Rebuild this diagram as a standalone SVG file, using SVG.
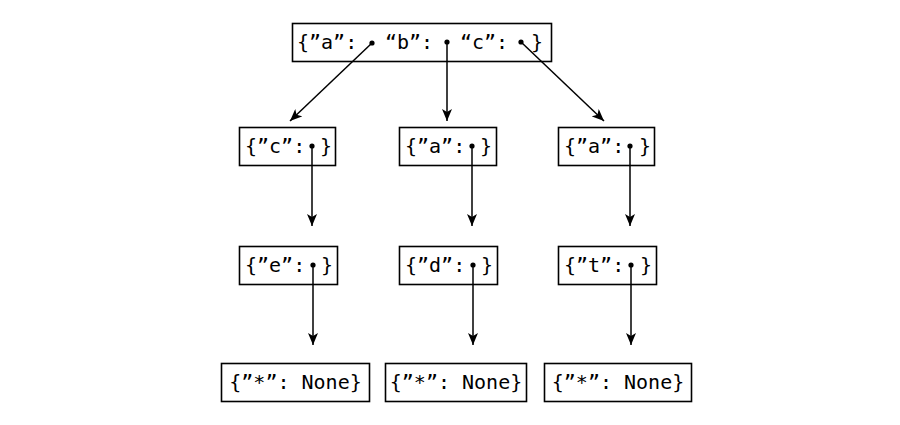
<svg xmlns="http://www.w3.org/2000/svg" width="900" height="425" viewBox="0 0 900 425">
<defs>
<style>
.box{fill:#fff;stroke:#000;stroke-width:1.6}
.t{font-family:"DejaVu Sans Mono","Liberation Mono",monospace;font-size:20px;fill:#000}
.c{text-anchor:middle}
.e{stroke:#000;stroke-width:1.5;fill:none}
.d{fill:#000}
</style>
<marker id="ah" viewBox="0 0 12 10" refX="12" refY="5" markerWidth="12" markerHeight="10" markerUnits="userSpaceOnUse" orient="auto">
<path d="M0,0 L12,5 L0,10 L3,5 Z" fill="#000"/>
</marker>
</defs>
<rect width="900" height="425" fill="#fff"/>
<g id="root">
<rect class="box" x="292.5" y="23.5" width="259" height="38"/>
<text class="t" x="297" y="49">{”a”:</text>
<text class="t" x="385" y="49">“b”:</text>
<text class="t" x="460" y="49">“c”:</text>
<text class="t" x="531" y="49">}</text>
</g>
<g id="n_c">
<rect class="box" x="239.5" y="127.5" width="96" height="38"/>
<text class="t" x="245" y="153">{”c”:</text>
<text class="t" x="320" y="153">}</text>
</g>
<g id="n_a1">
<rect class="box" x="399.5" y="127.5" width="97" height="38"/>
<text class="t" x="405" y="153">{”a”:</text>
<text class="t" x="480" y="153">}</text>
</g>
<g id="n_a2">
<rect class="box" x="558.5" y="127.5" width="96" height="38"/>
<text class="t" x="564" y="153">{”a”:</text>
<text class="t" x="639" y="153">}</text>
</g>
<g id="n_e">
<rect class="box" x="239.5" y="246.5" width="98" height="38"/>
<text class="t" x="245" y="272">{”e”:</text>
<text class="t" x="321" y="272">}</text>
</g>
<g id="n_d">
<rect class="box" x="399.5" y="246.5" width="98" height="38"/>
<text class="t" x="405" y="272">{”d”:</text>
<text class="t" x="481" y="272">}</text>
</g>
<g id="n_t">
<rect class="box" x="558.5" y="246.5" width="98" height="38"/>
<text class="t" x="564" y="272">{”t”:</text>
<text class="t" x="640" y="272">}</text>
</g>
<g id="leaf1">
<rect class="box" x="221.5" y="363.5" width="148" height="38"/>
<text class="t c" x="295.5" y="389">{”*”: None}</text>
</g>
<g id="leaf2">
<rect class="box" x="385.5" y="363.5" width="141" height="38"/>
<text class="t c" x="456" y="389">{”*”: None}</text>
</g>
<g id="leaf3">
<rect class="box" x="544.5" y="363.5" width="147" height="38"/>
<text class="t c" x="618" y="389">{”*”: None}</text>
</g>
<g id="connectors">
<circle class="d" cx="372" cy="43" r="2.6"/>
<circle class="d" cx="447" cy="42" r="2.6"/>
<circle class="d" cx="521" cy="42" r="2.6"/>
<path class="e" d="M372,43 L290,121" marker-end="url(#ah)"/>
<path class="e" d="M447,42 L447,121" marker-end="url(#ah)"/>
<path class="e" d="M521,42 L604,121" marker-end="url(#ah)"/>
<circle class="d" cx="312" cy="146" r="2.6"/>
<circle class="d" cx="472" cy="146" r="2.6"/>
<circle class="d" cx="630" cy="146" r="2.6"/>
<path class="e" d="M312,146 L312,226" marker-end="url(#ah)"/>
<path class="e" d="M472,146 L472,226" marker-end="url(#ah)"/>
<path class="e" d="M630,146 L630,226" marker-end="url(#ah)"/>
<circle class="d" cx="313" cy="265" r="2.6"/>
<circle class="d" cx="473" cy="265" r="2.6"/>
<circle class="d" cx="631" cy="265" r="2.6"/>
<path class="e" d="M313,265 L313,345" marker-end="url(#ah)"/>
<path class="e" d="M473,265 L473,345" marker-end="url(#ah)"/>
<path class="e" d="M631,265 L631,345" marker-end="url(#ah)"/>
</g>
</svg>
